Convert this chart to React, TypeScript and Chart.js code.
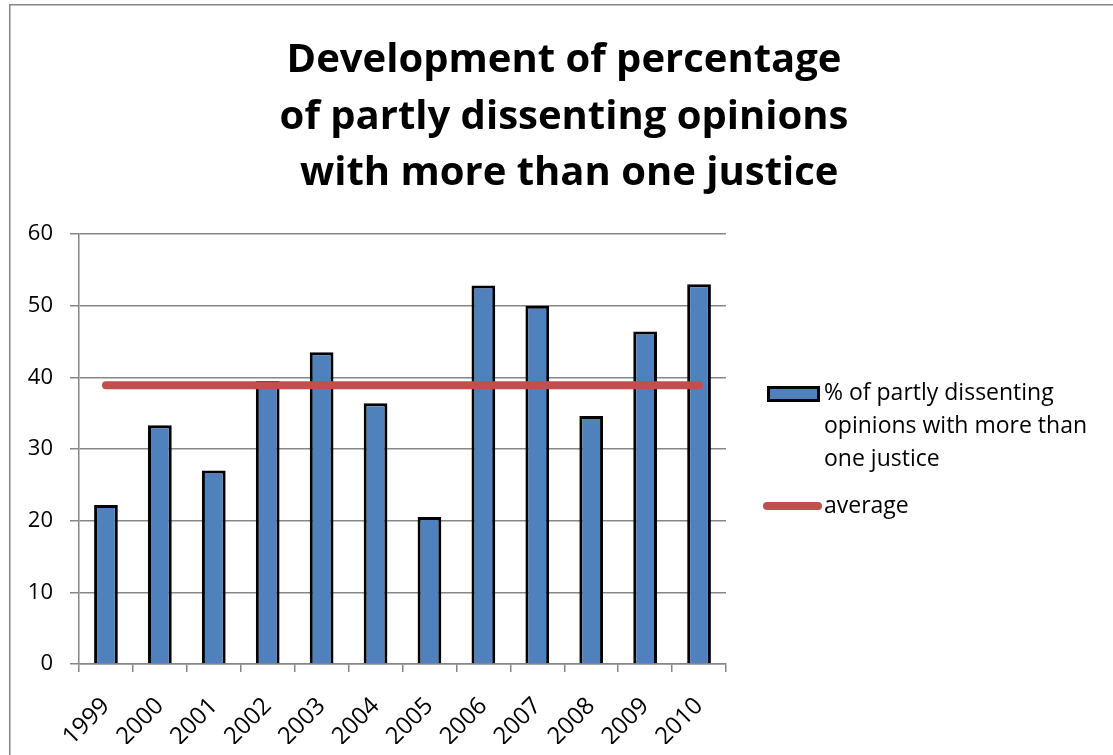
import React, { useEffect, useRef } from "react";
import { Chart, registerables } from "chart.js";

Chart.register(...registerables);

const years = ["1999", "2000", "2001", "2002", "2003", "2004", "2005", "2006", "2007", "2008", "2009", "2010"];
const dissentShare = [22.2, 33.3, 27.0, 39.5, 43.5, 36.4, 20.5, 52.8, 50.0, 34.6, 46.4, 53.0];
const averageShare = [38.9, 38.9, 38.9, 38.9, 38.9, 38.9, 38.9, 38.9, 38.9, 38.9, 38.9, 38.9];
const titleLines = ["Development of percentage", "of partly dissenting opinions", " with more than one justice"];
const barLegendLines = ["% of partly dissenting", "opinions with more than", "one justice"];
const lineLegendText = "average";

const FONT = "'Open Sans', 'Noto Sans', sans-serif";
const BAR_BLUE = "#4F81BD";
const AVG_RED = "#C0504D";
const GRID_GREY = "#868686";

const W = 1129;
const H = 770;

// Outer frame, title and legend drawn on the canvas around the plot
const decorPlugin = {
  id: "decor",
  beforeDraw(chart: any) {
    const ctx = chart.ctx;
    ctx.save();
    ctx.fillStyle = "#ffffff";
    ctx.fillRect(0, 0, W, H);
    ctx.strokeStyle = GRID_GREY;
    ctx.lineWidth = 1.5;
    ctx.strokeRect(9.75, 4.75, W + 20, H + 20);
    ctx.restore();
  },
  afterDraw(chart: any) {
    const ctx = chart.ctx;
    ctx.save();
    // Title
    ctx.fillStyle = "#000000";
    ctx.font = `bold 40px ${FONT}`;
    ctx.textAlign = "center";
    ctx.textBaseline = "alphabetic";
    const baselines = [72, 128.5, 185];
    titleLines.forEach((t, i) => ctx.fillText(t, 564, baselines[i]));

    // Legend
    const barDs = chart.data.datasets[0];
    const lineDs = chart.data.datasets[1];
    ctx.fillStyle = barDs.backgroundColor;
    ctx.fillRect(767, 386, 53, 16);
    ctx.strokeStyle = barDs.borderColor;
    ctx.lineWidth = 3;
    ctx.strokeRect(768.5, 387.5, 50, 13);

    ctx.font = `23px ${FONT}`;
    ctx.fillStyle = "#000000";
    ctx.textAlign = "left";
    ctx.textBaseline = "middle";
    const rows = [393, 426, 459];
    barLegendLines.forEach((t, i) => ctx.fillText(t, 824, rows[i]));

    ctx.strokeStyle = lineDs.borderColor;
    ctx.lineWidth = 8;
    ctx.lineCap = "round";
    ctx.beginPath();
    ctx.moveTo(767, 506);
    ctx.lineTo(818, 506);
    ctx.stroke();
    ctx.fillText(lineLegendText, 824, 506);
    ctx.restore();
  },
};

export default function App() {
  const canvasRef = useRef<HTMLCanvasElement | null>(null);

  useEffect(() => {
    const canvas = canvasRef.current;
    if (!canvas) return;
    const chart = new Chart(canvas, {
      type: "bar",
      data: {
        labels: years,
        datasets: [
          {
            type: "bar",
            label: barLegendLines.join(" "),
            data: dissentShare,
            backgroundColor: BAR_BLUE,
            borderColor: "#000000",
            borderWidth: 3,
            barPercentage: 0.44,
            categoryPercentage: 1,
            order: 2,
          },
          {
            type: "line",
            label: lineLegendText,
            data: averageShare,
            borderColor: AVG_RED,
            backgroundColor: AVG_RED,
            borderWidth: 8,
            borderCapStyle: "round",
            pointRadius: 0,
            fill: false,
            order: 1,
          },
        ],
      } as any,
      options: {
        responsive: false,
        animation: false,
        devicePixelRatio: 1,
        layout: { padding: { left: 0, top: 234, right: W - 726, bottom: H - 664 - 80 } },
        plugins: {
          legend: { display: false },
          title: { display: false },
          tooltip: { enabled: false },
        },
        scales: {
          x: {
            grid: {
              display: true,
              drawOnChartArea: false,
              drawTicks: true,
              tickLength: 8,
              color: GRID_GREY,
              lineWidth: 1.5,
            },
            border: { color: GRID_GREY, width: 1.5 },
            ticks: {
              color: "#000000",
              font: { family: FONT, size: 24 },
              minRotation: 45,
              maxRotation: 45,
              padding: 20,
            },
            afterFit(scale: any) {
              scale.height = 80;
            },
          },
          y: {
            min: 0,
            max: 60,
            ticks: {
              stepSize: 10,
              color: "#000000",
              font: { family: FONT, size: 22 },
              padding: 17,
            },
            grid: {
              color: GRID_GREY,
              lineWidth: 1.5,
              tickLength: 9,
            },
            border: { color: GRID_GREY, width: 1.5 },
            afterFit(scale: any) {
              scale.width = 79;
            },
          },
        },
      },
      plugins: [decorPlugin],
    });
    return () => chart.destroy();
  }, []);

  return (
    <div style={{ position: "fixed", left: 0, top: 0, width: 1113, height: 755, overflow: "hidden", background: "#fff" }}>
      <canvas ref={canvasRef} width={W} height={H} style={{ width: W, height: H, display: "block" }} />
    </div>
  );
}
